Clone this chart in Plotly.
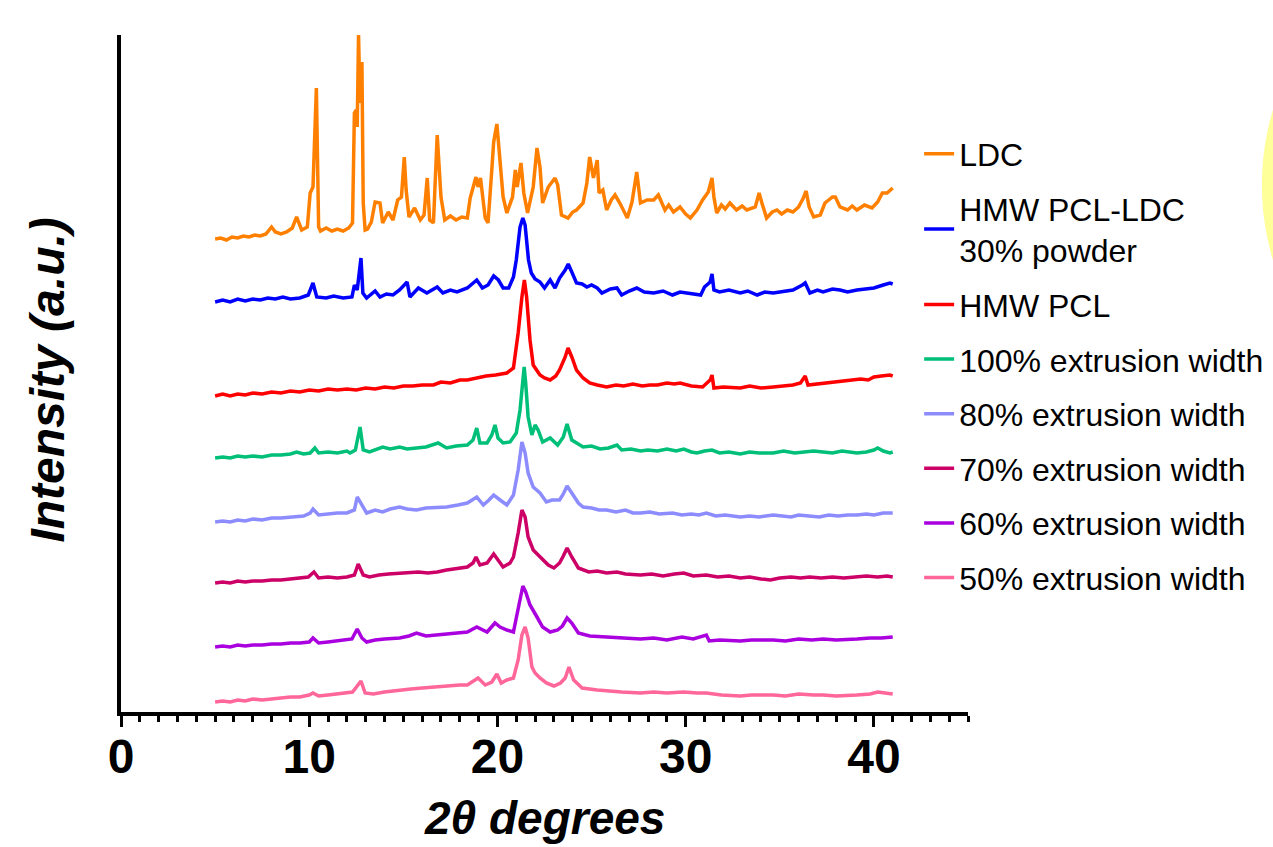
import plotly.graph_objects as go

# ---------------- data (2-theta in degrees, stacked intensity in a.u.) ----------------
ldc_x = [5.0, 5.3, 5.6, 5.9, 6.2, 6.5, 6.8, 7.1, 7.4, 7.7, 8.0, 8.2, 8.5, 8.8, 9.1, 9.33, 9.6, 9.9,
         10.05, 10.2, 10.38, 10.5, 10.6, 10.9, 11.2, 11.5, 11.8, 12.1, 12.3, 12.4, 12.5, 12.55, 12.62,
         12.7, 12.8, 12.87, 12.97, 13.1, 13.3, 13.5, 13.76, 13.9, 14.2, 14.45, 14.7, 14.9, 15.05, 15.15,
         15.3, 15.6, 15.9, 16.1, 16.27, 16.4, 16.6, 16.8, 17.0, 17.2, 17.5, 17.8, 18.1, 18.4, 18.55,
         18.86, 18.97, 19.1, 19.35, 19.5, 19.7, 19.8, 19.97, 20.14, 20.3, 20.5, 20.8, 20.95, 21.05,
         21.25, 21.4, 21.6, 21.9, 22.1, 22.26, 22.4, 22.7, 23.06, 23.2, 23.4, 23.75, 24.0, 24.2, 24.55,
         24.75, 24.9, 25.1, 25.3, 25.4, 25.6, 25.8, 26.05, 26.25, 26.5, 26.9, 27.15, 27.4, 27.6, 27.95,
         28.3, 28.55, 28.9, 29.1, 29.35, 29.7, 30.0, 30.25, 30.6, 30.9, 31.2, 31.4, 31.5, 31.65, 31.9,
         32.1, 32.35, 32.7, 33.0, 33.25, 33.7, 33.9, 34.05, 34.3, 34.6, 34.85, 35.1, 35.4, 35.7, 36.0,
         36.25, 36.4, 36.56, 36.8, 37.15, 37.4, 37.8, 37.95, 38.2, 38.6, 38.85, 39.1, 39.5, 39.9, 40.2,
         40.45, 40.7, 40.9, 41.0]
ldc_y = [473, 474, 472, 475, 474, 476, 475, 477, 476, 478, 485, 480, 478, 480, 484, 495, 482, 485,
         519, 525, 624, 485, 481, 484, 481, 483, 481, 484, 489, 599, 602, 585, 677,
         609, 650, 509, 482, 483, 490, 510, 509, 489, 500, 492, 512, 515, 555, 522,
         495, 504, 492, 497, 534, 492, 489, 577, 515, 492, 496, 492, 495, 494, 514,
         535, 525, 534, 494, 489, 542, 570, 588, 545, 515, 499, 515, 542, 525,
         549, 519, 499, 525, 564, 545, 509, 525, 534, 527, 497, 494, 500, 502, 509,
         529, 555, 534, 552, 519, 522, 502, 512, 517, 509, 494, 510, 540, 509, 512,
         512, 517, 502, 507, 500, 505, 498, 494, 502, 512, 520, 534, 515, 499, 507,
         503, 509, 502, 506, 502, 505, 519, 509, 494, 500, 502, 498, 502, 500, 505,
         514, 521, 505, 495, 497, 509, 515, 515, 505, 502, 506, 502, 507, 504, 510,
         519, 519, 522, 524]

blend_x = [5.0, 5.4, 5.8, 6.2, 6.6, 7.0, 7.4, 7.8, 8.2, 8.6, 9.0, 9.5, 9.95, 10.2, 10.4, 10.9, 11.3,
           11.8, 12.27, 12.4, 12.55, 12.75, 12.85, 13.05, 13.5, 13.76, 14.1, 14.45, 14.8, 15.2, 15.35,
           15.8, 16.25, 16.8, 17.1, 17.5, 17.85, 18.4, 18.9, 19.2, 19.5, 19.8, 20.05, 20.3, 20.6, 20.85,
           21.0, 21.2, 21.35, 21.47, 21.65, 21.8, 22.0, 22.26, 22.5, 22.8, 23.06, 23.3, 23.6, 23.76,
           23.95, 24.2, 24.5, 24.75, 25.0, 25.3, 25.55, 26.0, 26.35, 26.6, 27.0, 27.4, 27.8, 28.3, 28.8,
           29.3, 29.7, 30.2, 30.8, 31.0, 31.3, 31.4, 31.5, 31.8, 32.3, 32.9, 33.3, 33.8, 34.2, 34.65,
           35.2, 35.7, 36.2, 36.35, 36.6, 37.0, 37.3, 37.8, 38.2, 38.6, 39.1, 39.6, 40.0, 40.5, 40.85, 41.0]
blend_y = [410, 412, 410, 413, 411, 413, 412, 414, 413, 415, 413, 414, 417, 429, 415, 414, 416,
           414, 415, 427, 422, 454, 419, 414, 421, 415, 418, 417, 422, 430, 415,
           424, 419, 425, 419, 422, 420, 424, 432, 424, 427, 436, 432, 424, 424, 435,
           452, 485, 494, 487, 452, 439, 433, 430, 424, 432, 424, 434, 442, 448,
           440, 429, 428, 425, 427, 424, 419, 423, 424, 417, 421, 424, 420, 419, 421,
           417, 420, 419, 417, 425, 430, 438, 422, 420, 422, 419, 421, 417, 420, 419,
           421, 422, 427, 429, 419, 422, 420, 423, 422, 420, 422, 423, 424, 427, 429, 428]

pcl_x = [5.0, 5.4, 5.8, 6.2, 6.6, 7.0, 7.5, 8.0, 8.5, 9.0, 9.5, 10.0, 10.5, 11.0, 11.5, 12.0, 12.5,
         13.0, 13.5, 14.0, 14.5, 15.0, 15.5, 16.0, 16.6, 17.0, 17.5, 18.0, 18.4, 18.9, 19.4, 19.9, 20.5,
         20.85, 21.1, 21.3, 21.43, 21.55, 21.73, 21.9, 22.26, 22.5, 22.8, 23.1, 23.3, 23.6, 23.75, 23.95,
         24.2, 24.55, 24.9, 25.3, 25.8, 26.3, 26.7, 27.2, 27.7, 28.1, 28.5, 29.0, 29.4, 29.7, 30.3, 30.9,
         31.3, 31.4, 31.5, 32.0, 32.5, 32.9, 33.4, 34.0, 34.65, 35.2, 35.7, 36.1, 36.35, 36.5, 37.0,
         37.5, 38.2, 38.7, 39.3, 39.7, 40.0, 40.4, 40.85, 41.0]
pcl_y = [316, 318, 316, 318, 317, 319, 318, 320, 319, 321, 320, 322, 321, 323, 322, 323, 322,
         324, 323, 325, 324, 326, 326, 327, 327, 330, 329, 332, 332, 334, 336, 337, 339,
         344, 379, 415, 432, 415, 372, 347, 337, 334, 332, 336, 342, 355, 364, 355,
         342, 334, 329, 327, 325, 327, 326, 328, 326, 327, 327, 329, 328, 329, 326, 325,
         332, 337, 324, 325, 324, 324, 326, 324, 325, 326, 327, 329, 336, 327, 328,
         329, 330, 331, 333, 332, 335, 336, 337, 336]

w100_x = [5.0, 5.4, 5.8, 6.2, 6.6, 7.0, 7.5, 8.0, 8.5, 9.0, 9.33, 9.7, 10.05, 10.3, 10.5, 11.0, 11.5,
          12.0, 12.17, 12.45, 12.7, 12.87, 13.2, 13.6, 13.9, 14.3, 14.8, 15.2, 15.7, 16.2, 16.85, 17.3,
          17.8, 18.4, 18.7, 18.9, 19.07, 19.45, 19.7, 19.87, 20.03, 20.3, 20.67, 21.0, 21.2, 21.35, 21.42,
          21.5, 21.63, 21.83, 22.0, 22.16, 22.4, 22.8, 23.2, 23.5, 23.7, 23.95, 24.3, 24.55, 25.0, 25.45,
          25.9, 26.35, 26.6, 27.1, 27.6, 28.0, 28.5, 29.0, 29.5, 29.9, 30.3, 30.6, 31.0, 31.4, 31.8,
          32.3, 32.9, 33.4, 33.9, 34.65, 35.2, 35.8, 36.3, 36.8, 37.3, 37.8, 38.3, 38.8, 39.1, 39.6,
          40.0, 40.2, 40.5, 40.85, 41.0]
w100_y = [254, 255, 254, 256, 255, 256, 255, 257, 257, 258, 260, 258, 259, 264, 259, 260, 259,
          261, 259, 262, 285, 262, 260, 263, 265, 263, 265, 263, 264, 265, 269, 264,
          266, 267, 272, 284, 269, 269, 277, 287, 274, 269, 270, 279, 302, 332, 345,
          329, 295, 277, 287, 282, 270, 274, 267, 275, 288, 272, 268, 265, 266, 263,
          264, 267, 262, 263, 261, 262, 261, 263, 261, 263, 260, 259, 261, 262, 259,
          260, 258, 260, 259, 259, 261, 259, 260, 261, 260, 259, 261, 260, 259, 260,
          262, 264, 261, 259, 260]

w80_x = [5.0, 5.4, 5.8, 6.2, 6.6, 7.0, 7.5, 8.0, 8.5, 9.0, 9.33, 9.7, 10.05, 10.2, 10.5, 11.0, 11.5,
         12.0, 12.4, 12.55, 12.8, 13.05, 13.5, 13.9, 14.3, 14.8, 15.2, 15.7, 16.2, 16.8, 17.3, 17.9,
         18.4, 18.9, 19.25, 19.55, 19.8, 20.14, 20.5, 20.85, 21.1, 21.3, 21.47, 21.63, 21.9, 22.26,
         22.6, 22.9, 23.3, 23.5, 23.7, 23.95, 24.3, 24.55, 25.0, 25.4, 25.8, 26.3, 26.8, 27.2, 27.6,
         28.1, 28.6, 29.3, 29.8, 30.3, 30.7, 31.1, 31.6, 32.1, 32.9, 33.4, 33.9, 34.65, 35.1, 35.6,
         36.0, 36.6, 37.1, 37.6, 38.1, 38.6, 39.1, 39.6, 40.0, 40.5, 41.0]
w80_y = [190, 191, 190, 192, 191, 193, 192, 194, 194, 195, 195, 196, 199, 203, 197, 198, 199,
         199, 202, 215, 207, 199, 202, 200, 203, 205, 203, 202, 204, 205, 205, 207,
         209, 215, 207, 212, 217, 212, 207, 217, 242, 270, 259, 239, 225, 219,
         210, 212, 212, 218, 226, 219, 209, 205, 204, 202, 202, 200, 202, 199, 199,
         200, 198, 199, 197, 198, 197, 199, 196, 197, 195, 196, 195, 197, 196, 195,
         197, 196, 195, 197, 196, 197, 197, 198, 197, 199, 199]

w70_x = [5.0, 5.4, 5.8, 6.2, 6.6, 7.0, 7.5, 8.0, 8.5, 9.0, 9.5, 9.95, 10.25, 10.5, 11.0, 11.5, 12.0,
         12.4, 12.6, 12.87, 13.2, 13.7, 14.2, 14.8, 15.3, 15.8, 16.3, 16.8, 17.3, 17.8, 18.4, 18.7,
         18.86, 19.07, 19.45, 19.8, 20.05, 20.3, 20.67, 20.85, 21.1, 21.3, 21.47, 21.63, 21.9, 22.4,
         22.7, 23.0, 23.3, 23.5, 23.7, 23.95, 24.3, 24.85, 25.3, 25.8, 26.35, 26.8, 27.6, 28.2, 28.8,
         29.4, 29.9, 30.4, 31.1, 31.7, 32.3, 32.9, 33.4, 34.0, 34.5, 35.0, 35.6, 36.1, 36.6, 37.2,
         37.8, 38.4, 39.1, 39.6, 40.2, 40.7, 41.0]
w70_y = [129, 130, 129, 131, 130, 131, 131, 132, 132, 133, 134, 135, 140, 134, 135, 134, 135,
         137, 148, 137, 135, 137, 138, 139, 139, 140, 139, 140, 142, 143, 145, 149,
         155, 147, 149, 158, 152, 145, 149, 155, 179, 202, 195, 175, 162, 152,
         147, 144, 149, 156, 164, 155, 144, 140, 141, 139, 140, 138, 137, 138, 136,
         138, 139, 136, 137, 135, 136, 134, 135, 133, 132, 134, 135, 134, 135, 134,
         135, 134, 135, 136, 135, 136, 135]

w60_x = [5.0, 5.4, 5.8, 6.2, 6.6, 7.0, 7.5, 8.0, 8.5, 9.0, 9.5, 10.0, 10.2, 10.5, 11.0, 11.5, 12.0,
         12.27, 12.55, 12.8, 13.05, 13.5, 14.0, 14.8, 15.3, 15.7, 16.2, 16.8, 17.4, 18.0, 18.4, 18.9,
         19.45, 19.87, 20.14, 20.5, 20.85, 21.0, 21.2, 21.35, 21.5, 21.73, 22.1, 22.4, 22.8, 23.2,
         23.45, 23.7, 23.95, 24.3, 24.9, 25.8, 26.5, 27.6, 28.3, 29.0, 29.8, 30.4, 31.1, 31.25, 31.8,
         32.9, 33.5, 34.65, 35.3, 36.0, 36.7, 37.3, 38.0, 38.6, 39.1, 39.8, 40.4, 41.0]
w60_y = [65, 66, 65, 67, 66, 67, 67, 68, 68, 69, 69, 70, 74, 69, 70, 71, 72,
         73, 83, 74, 70, 72, 73, 74, 76, 79, 76, 77, 78, 79, 80, 85,
         80, 89, 85, 82, 80, 94, 115, 126, 120, 107, 95, 85, 80, 82,
         86, 94, 89, 79, 76, 75, 74, 73, 74, 72, 75, 73, 77, 71, 72,
         71, 72, 72, 71, 73, 72, 73, 72, 73, 73, 74, 74, 75]

w50_x = [5.0, 5.4, 5.8, 6.2, 6.6, 7.0, 7.5, 8.0, 8.5, 9.0, 9.5, 10.0, 10.2, 10.5, 11.0, 11.5, 12.0,
         12.3, 12.55, 12.75, 12.97, 13.4, 14.0, 14.8, 15.4, 16.0, 16.6, 17.3, 18.0, 18.4, 18.97,
         19.35, 19.7, 19.97, 20.2, 20.5, 20.85, 21.1, 21.3, 21.47, 21.63, 21.83, 22.0, 22.26, 22.6,
         23.0, 23.35, 23.6, 23.8, 24.05, 24.5, 25.3, 25.8, 26.6, 27.6, 28.3, 29.0, 29.9, 30.6, 31.1,
         31.9, 32.9, 33.5, 34.65, 35.3, 36.0, 36.8, 37.3, 38.0, 38.6, 39.1, 39.8, 40.2, 40.6, 41.0]
w50_y = [10, 11, 10, 12, 11, 13, 12, 13, 14, 15, 15, 17, 19, 16, 17, 18, 19,
         20, 26, 31, 19, 18, 20, 22, 23, 24, 25, 26, 27, 27, 34,
         27, 30, 38, 29, 32, 34, 52, 77, 85, 74, 45, 39, 34, 29,
         26, 29, 34, 45, 32, 24, 22, 21, 20, 19, 20, 19, 20, 19, 19,
         17, 16, 17, 17, 16, 18, 17, 17, 16, 17, 17, 18, 20, 19, 18]

series_names = ["LDC", "HMW PCL-LDC<br>30% powder", "HMW PCL", "100% extrusion width",
                "80% extrusion width", "70% extrusion width", "60% extrusion width",
                "50% extrusion width"]
series_x = [ldc_x, blend_x, pcl_x, w100_x, w80_x, w70_x, w60_x, w50_x]
series_y = [ldc_y, blend_y, pcl_y, w100_y, w80_y, w70_y, w60_y, w50_y]
series_colors = ["#FF8000", "#0000FF", "#FF0000", "#00BF78", "#8C8CFF", "#CC0066", "#AA00E0", "#FF6699"]

x_ticks = [0, 10, 20, 30, 40]

# ---------------- figure ----------------
fig = go.Figure()
for name, xs, ys, col in zip(series_names, series_x, series_y, series_colors):
    fig.add_trace(go.Scatter(x=xs, y=ys, mode="lines", name=name, legendgroup=name,
                             line=dict(color=col, width=3.5)))

axis_font = dict(family="Liberation Sans, Arial, sans-serif", size=48, color="black", weight="bold")

fig.update_layout(
    width=1300, height=847,
    margin=dict(l=121, r=332, t=35, b=135),
    plot_bgcolor="white", paper_bgcolor="white",
    showlegend=True,
    legend=dict(x=0.9423, xanchor="left", y=0.865, yanchor="top",
                font=dict(family="Liberation Sans, Arial, sans-serif", size=32, color="black"),
                tracegroupgap=10, itemwidth=30, bgcolor="rgba(0,0,0,0)"),
    xaxis=dict(range=[0, 45], tickmode="array", tickvals=x_ticks, ticktext=[str(v) for v in x_ticks],
               showgrid=False, zeroline=False, showline=True, linecolor="black", linewidth=4,
               ticks="outside", ticklen=11, tickwidth=3, tickcolor="black", ticklabelstandoff=-12,
               minor=dict(dtick=1, ticks="outside", ticklen=6, tickwidth=3, tickcolor="black", showgrid=False),
               tickfont=axis_font),
    yaxis=dict(range=[0, 677], showgrid=False, zeroline=False, showline=True, linecolor="black",
               linewidth=4, ticks="", showticklabels=False),
    annotations=[
        dict(text="<b><i>2θ degrees</i></b>", xref="paper", yref="paper", x=0.5, y=-0.157,
             xanchor="center", yanchor="middle", showarrow=False,
             font=dict(family="Liberation Sans, Arial, sans-serif", size=46, color="black")),
        dict(text="<b><i>Intensity (a.u.)</i></b>", xref="paper", yref="paper", x=-0.087, y=0.49,
             xanchor="center", yanchor="middle", textangle=-90, showarrow=False,
             font=dict(family="Liberation Sans, Arial, sans-serif", size=48, color="black")),
    ],
    shapes=[
        dict(type="circle", xref="paper", yref="paper", x0=1.347, x1=1.963, y0=0.393, y1=1.164,
             fillcolor="#FFFF99", line=dict(width=0), layer="below"),
    ],
)

page_fix = ("document.documentElement.style.overflow='hidden';"
            "document.body.style.overflow='hidden';"
            "document.body.style.margin='0';")
fig.write_html("out.html", post_script=page_fix, config={"displayModeBar": False})
